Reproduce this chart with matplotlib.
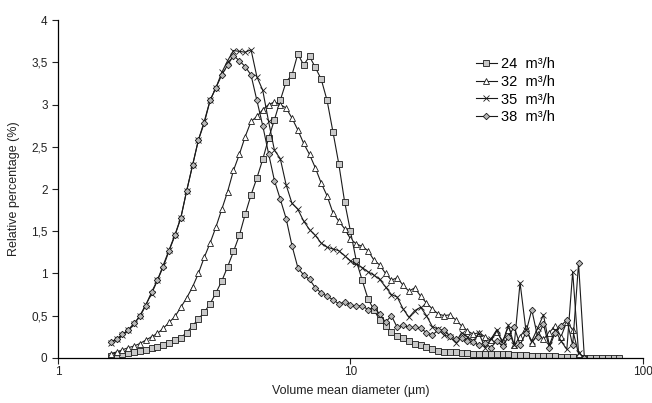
import numpy as np
import matplotlib
matplotlib.use("Agg")
import matplotlib.pyplot as plt
from matplotlib.ticker import FixedLocator, FuncFormatter, NullLocator

plt.rcParams['font.family'] = ['Liberation Sans', 'DejaVu Sans']

# Bin diameters (µm): log-spaced instrument bins, 0.02 decade apart
log_start = 0.18
log_step = 0.02
n_bins = 88
diam = 10 ** (log_start + log_step * np.arange(n_bins))

labels = ["24  m³/h", "32  m³/h", "35  m³/h", "38  m³/h"]

q24 = [0.02, 0.035, 0.05, 0.055, 0.065, 0.08, 0.095, 0.115, 0.13, 0.15,
       0.18, 0.21, 0.24, 0.30, 0.38, 0.46, 0.54, 0.64, 0.77, 0.91,
       1.08, 1.26, 1.45, 1.70, 1.93, 2.13, 2.35, 2.60, 2.82, 3.05,
       3.27, 3.35, 3.60, 3.47, 3.57, 3.44, 3.30, 3.05, 2.68, 2.30,
       1.85, 1.50, 1.15, 0.92, 0.70, 0.57, 0.45, 0.38, 0.31, 0.26,
       0.23, 0.20, 0.17, 0.15, 0.13, 0.10, 0.08, 0.075, 0.075, 0.07,
       0.06, 0.055, 0.05, 0.05, 0.05, 0.05, 0.045, 0.04, 0.04, 0.035,
       0.03, 0.03, 0.025, 0.025, 0.02, 0.02, 0.02, 0.015, 0.01, 0.01,
       0.0, 0.0, 0.0, 0.0, 0.0, 0.0, 0.0, 0.0]

q32 = [0.05, 0.07, 0.095, 0.12, 0.14, 0.17, 0.21, 0.25, 0.29, 0.35,
       0.42, 0.49, 0.60, 0.71, 0.84, 1.00, 1.19, 1.36, 1.55, 1.76,
       1.97, 2.22, 2.41, 2.62, 2.80, 2.86, 2.94, 3.00, 3.03, 3.00,
       2.96, 2.84, 2.70, 2.54, 2.41, 2.25, 2.07, 1.92, 1.72, 1.62,
       1.53, 1.41, 1.35, 1.32, 1.27, 1.16, 1.10, 1.00, 0.92, 0.95,
       0.86, 0.79, 0.83, 0.73, 0.65, 0.58, 0.52, 0.50, 0.51, 0.45,
       0.38, 0.32, 0.28, 0.30, 0.25, 0.21, 0.31, 0.20, 0.33, 0.15,
       0.25, 0.35, 0.18, 0.28, 0.22, 0.30, 0.38, 0.25, 0.43, 0.33,
       0.05, 0.0]

q35 = [0.18, 0.22, 0.27, 0.33, 0.40, 0.50, 0.63, 0.76, 0.92, 1.10,
       1.28, 1.46, 1.66, 1.98, 2.28, 2.58, 2.80, 3.05, 3.20, 3.38,
       3.52, 3.64, 3.63, 3.62, 3.65, 3.33, 3.17, 2.80, 2.46, 2.36,
       2.05, 1.83, 1.76, 1.62, 1.52, 1.45, 1.36, 1.31, 1.29, 1.27,
       1.21, 1.15, 1.11, 1.07, 1.02, 0.98, 0.93, 0.84, 0.75, 0.72,
       0.58, 0.48, 0.56, 0.60, 0.50, 0.37, 0.34, 0.27, 0.25, 0.18,
       0.30, 0.25, 0.20, 0.29, 0.12, 0.22, 0.33, 0.18, 0.39, 0.15,
       0.89, 0.33, 0.20, 0.35, 0.51, 0.15, 0.33, 0.20, 0.10, 1.02,
       0.06, 0.0]

q38 = [0.19, 0.22, 0.28, 0.33, 0.41, 0.49, 0.62, 0.78, 0.92, 1.08,
       1.27, 1.45, 1.66, 1.98, 2.28, 2.58, 2.78, 3.05, 3.20, 3.35,
       3.47, 3.58, 3.52, 3.45, 3.35, 3.05, 2.75, 2.42, 2.10, 1.88,
       1.65, 1.33, 1.07, 0.98, 0.93, 0.83, 0.77, 0.73, 0.69, 0.64,
       0.66, 0.63, 0.61, 0.62, 0.57, 0.60, 0.52, 0.42, 0.50, 0.36,
       0.39, 0.36, 0.36, 0.35, 0.30, 0.27, 0.33, 0.33, 0.26, 0.22,
       0.23, 0.20, 0.19, 0.15, 0.18, 0.12, 0.20, 0.14, 0.25, 0.37,
       0.15, 0.30, 0.57, 0.25, 0.40, 0.12, 0.30, 0.38, 0.45, 0.15,
       1.12, 0.0]

series = [q24, q32, q35, q38]
markers = ['s', '^', 'x', 'D']
mfcs = ['#c8c8c8', 'white', 'black', '#b8b8b8']
msizes = [3.8, 4.0, 3.8, 3.3]

y_ticks = [0, 0.5, 1, 1.5, 2, 2.5, 3, 3.5, 4]
x_ticks = [1, 10, 100]

fig = plt.figure(figsize=(6.52, 4.03), dpi=100)
ax = fig.add_axes([0.089, 0.112, 0.897, 0.838])

for vals, lab, m, fc, ms in zip(series, labels, markers, mfcs, msizes):
    ax.plot(diam[:len(vals)], vals, color='#1a1a1a', lw=0.8, marker=m,
            markersize=ms, markerfacecolor=fc, markeredgecolor='#1a1a1a',
            markeredgewidth=0.6, label=lab)

ax.set_xscale('log')
ax.set_xlim(1, 100)
ax.set_ylim(0, 4)
ax.xaxis.set_major_locator(FixedLocator(x_ticks))
ax.xaxis.set_minor_locator(NullLocator())
ax.xaxis.set_major_formatter(FuncFormatter(lambda v, p: f"{v:g}"))
ax.yaxis.set_major_locator(FixedLocator(y_ticks))
ax.yaxis.set_major_formatter(FuncFormatter(lambda v, p: f"{v:g}".replace('.', ',')))

for s in ['top', 'right']:
    ax.spines[s].set_visible(False)
for s in ['left', 'bottom']:
    ax.spines[s].set_linewidth(0.9)
ax.tick_params(axis='both', direction='out', length=4, width=0.8, labelsize=8.5,
               colors='#222222')
ax.tick_params(axis='x', pad=2)

ax.set_xlabel("Volume mean diameter (µm)", fontsize=9, color='#222222', labelpad=5)
ax.set_ylabel("Relative percentage (%)", fontsize=9, color='#222222', labelpad=8)

leg = ax.legend(loc='upper left', bbox_to_anchor=(0.715, 0.89), frameon=False,
                fontsize=10.5, handlelength=1.4, handletextpad=0.3,
                labelspacing=0.25, borderaxespad=0, borderpad=0)

fig.savefig("out.png", dpi=100)
